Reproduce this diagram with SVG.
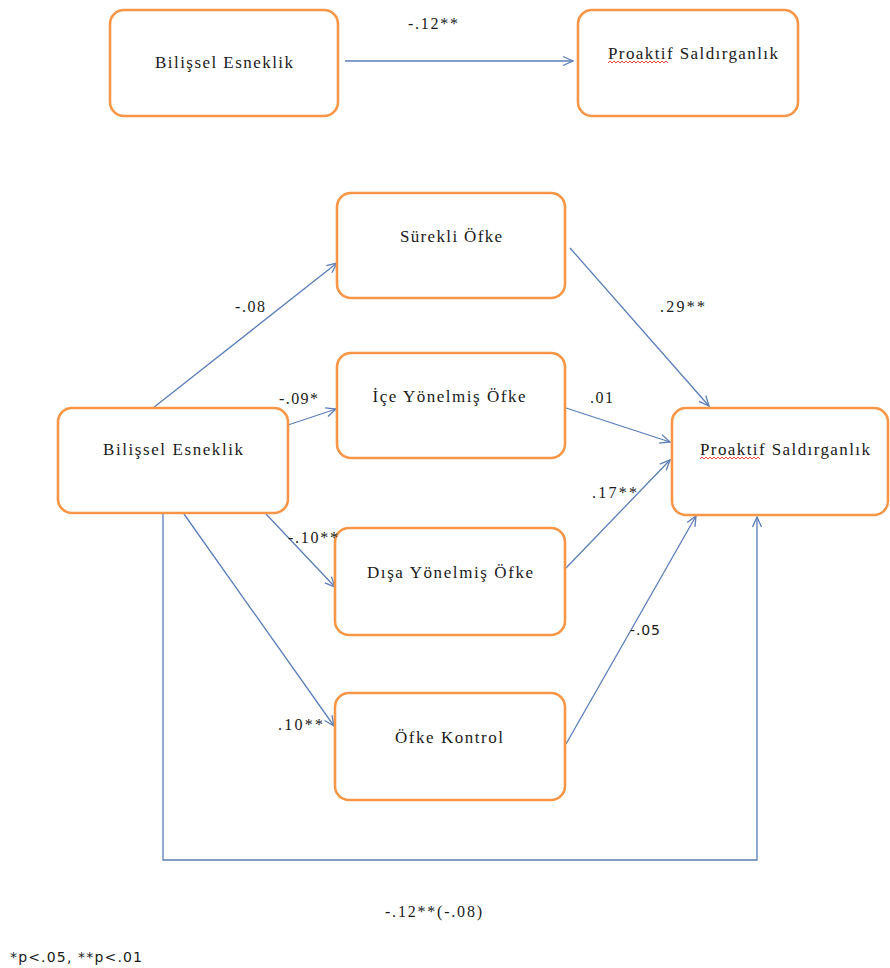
<svg xmlns="http://www.w3.org/2000/svg" width="890" height="968" viewBox="0 0 890 968">
<style>
.node{fill:#fff;stroke:#F79646;stroke-width:2.6}
.lbl{font-family:"Liberation Serif","Times New Roman",serif;font-size:17px;fill:#1a1a1a;text-anchor:middle}
.num{font-family:"Liberation Serif","Times New Roman",serif;font-size:16px;fill:#1a1a1a}
.sans{font-family:"DejaVu Sans","Liberation Sans",sans-serif;font-size:14px;fill:#1a1a1a}
.edge{fill:none;stroke:#5B7DB8;stroke-width:1.3;marker-end:url(#ah)}
.sq{fill:none;stroke:#E03030;stroke-width:0.9}
</style>
<defs>
<marker id="ah" markerUnits="userSpaceOnUse" markerWidth="12" markerHeight="12" viewBox="0 0 12 12" refX="11" refY="6" orient="auto">
<path d="M1,1.5 L11,6 L1,10.5" fill="none" stroke="#5B7DB8" stroke-width="1.3"/>
</marker>
</defs>
<rect width="890" height="968" fill="#fff"/>
<g id="connectors">
<path class="edge" d="M345,61 H573"/>
<path class="edge" d="M153,408 L337,263"/>
<path class="edge" d="M288,425 L336,409"/>
<path class="edge" d="M266,514 L335,587"/>
<path class="edge" d="M184,514 L334,726"/>
<path class="edge" d="M570,248 L709,406"/>
<path class="edge" d="M566,408 L670,442"/>
<path class="edge" d="M566,568 L670,460"/>
<path class="edge" d="M566,744 L696,516"/>
<path class="edge" d="M163,513 V860 H757 V517"/>
</g>
<g id="top-bilissel">
<rect class="node" x="110" y="10" width="228" height="106" rx="14"/>
<text class="lbl" x="224" y="68" textLength="138" lengthAdjust="spacing">Bilişsel Esneklik</text>
</g>
<g id="top-proaktif">
<rect class="node" x="578" y="10" width="220" height="106" rx="14"/>
<text class="lbl" x="693" y="59" textLength="170" lengthAdjust="spacing">Proaktif Saldırganlık</text>
<path class="sq" d="M608,63 l2,-2 l2,2 l2,-2 l2,2 l2,-2 l2,2 l2,-2 l2,2 l2,-2 l2,2 l2,-2 l2,2 l2,-2 l2,2 l2,-2 l2,2 l2,-2 l2,2 l2,-2 l2,2 l2,-2 l2,2 l2,-2 l2,2 l2,-2 l2,2 l2,-2 l2,2 l2,-2 l2,2"/>
</g>
<g id="surekli">
<rect class="node" x="337" y="193" width="228" height="105" rx="14"/>
<text class="lbl" x="451" y="242" textLength="102" lengthAdjust="spacing">Sürekli Öfke</text>
</g>
<g id="ice">
<rect class="node" x="337" y="353" width="228" height="105" rx="14"/>
<text class="lbl" x="449" y="402" textLength="153" lengthAdjust="spacing">İçe Yönelmiş Öfke</text>
</g>
<g id="bilissel">
<rect class="node" x="58" y="408" width="230" height="105" rx="14"/>
<text class="lbl" x="173" y="455" textLength="140" lengthAdjust="spacing">Bilişsel Esneklik</text>
</g>
<g id="disa">
<rect class="node" x="335" y="528" width="230" height="107" rx="14"/>
<text class="lbl" x="450" y="578" textLength="166" lengthAdjust="spacing">Dışa Yönelmiş Öfke</text>
</g>
<g id="kontrol">
<rect class="node" x="335" y="693" width="230" height="107" rx="14"/>
<text class="lbl" x="449" y="743" textLength="108" lengthAdjust="spacing">Öfke Kontrol</text>
</g>
<g id="proaktif">
<rect class="node" x="672" y="408" width="216" height="107" rx="14"/>
<text class="lbl" x="785" y="455" textLength="170" lengthAdjust="spacing">Proaktif Saldırganlık</text>
<path class="sq" d="M700,459 l2,-2 l2,2 l2,-2 l2,2 l2,-2 l2,2 l2,-2 l2,2 l2,-2 l2,2 l2,-2 l2,2 l2,-2 l2,2 l2,-2 l2,2 l2,-2 l2,2 l2,-2 l2,2 l2,-2 l2,2 l2,-2 l2,2 l2,-2 l2,2 l2,-2 l2,2 l2,-2 l2,2"/>
</g>
<g id="labels">
<text class="num" x="408" y="29" textLength="50" lengthAdjust="spacing">-.12**</text>
<text class="num" x="235" y="312" textLength="30" lengthAdjust="spacing">-.08</text>
<text class="num" x="279" y="404" textLength="39" lengthAdjust="spacing">-.09*</text>
<text class="num" x="660" y="312" textLength="45" lengthAdjust="spacing">.29**</text>
<text class="num" x="590" y="403" textLength="23" lengthAdjust="spacing">.01</text>
<text class="num" x="592" y="498" textLength="45" lengthAdjust="spacing">.17**</text>
<text class="num" x="288" y="543" textLength="50" lengthAdjust="spacing">-.10**</text>
<text class="num" x="278" y="730" textLength="45" lengthAdjust="spacing">.10**</text>
<text class="sans" x="630" y="635" textLength="30" lengthAdjust="spacing">-.05</text>
<text class="num" x="385" y="917" textLength="97" lengthAdjust="spacing">-.12**(-.08)</text>
<text class="sans" x="10" y="962" textLength="132" lengthAdjust="spacing">*p&lt;.05, **p&lt;.01</text>
</g>
</svg>
